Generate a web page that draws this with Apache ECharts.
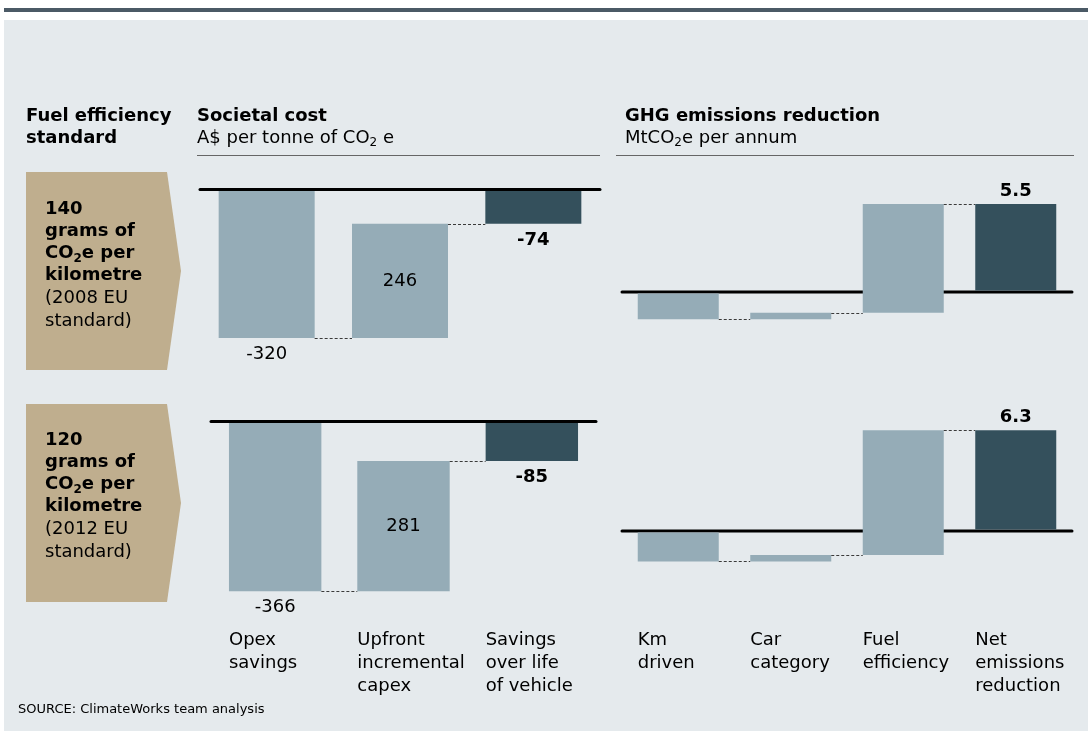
<!DOCTYPE html>
<html>
<head>
<meta charset="utf-8">
<script src="https://cdn.jsdelivr.net/npm/echarts@6/dist/echarts.min.js"></script>
<style>
  html, body { margin: 0; padding: 0; background: #fff; }
  #main { width: 1088px; height: 731px; }
</style>
</head>
<body>
<div id="main"></div>
<script>
// categories
var costCategories = ["Opex\nsavings", "Upfront\nincremental\ncapex", "Savings\nover life\nof vehicle"];
var ghgCategories = ["Km\ndriven", "Car\ncategory", "Fuel\nefficiency", "Net\nemissions\nreduction"];

// societal cost, A$ per tonne CO2e (last value = total)
var cost140 = [-320, 246, -74];
var cost120 = [-366, 281, -85];

// GHG emissions reduction, MtCO2e per annum (last value = total)
var ghg140 = [-1.7, 0.4, 6.8, 5.5];
var ghg120 = [-1.9, 0.4, 7.8, 6.3];

var FONT = "DejaVu Sans";
var LIGHT = "#95acb7";
var DARK = "#34505c";

// turn the steps into [index, start, end] for the waterfall
function steps(values) {
  var cum = 0;
  return values.map(function (v, i) {
    if (i === values.length - 1) return [i, 0, v];
    var s = cum;
    cum += v;
    return [i, s, cum];
  });
}

function waterfall(values, showAll, cats) {
  var n = values.length;
  return function (params, api) {
    var i = api.value(0), s = api.value(1), e = api.value(2);
    var last = i === n - 1;
    var bw = api.size([1, 0])[0] * 0.72;
    var ps = api.coord([i, s]);
    var pe = api.coord([i, e]);
    var zeroY = api.coord([i, 0])[1];
    var x = ps[0] - bw / 2;
    var y0 = Math.min(ps[1], pe[1]);
    var y1 = Math.max(ps[1], pe[1]);
    // keep the thick zero line visible where a bar starts on it
    if (Math.abs(y0 - zeroY) < 0.5) y0 += 1.5;
    if (Math.abs(y1 - zeroY) < 0.5) y1 -= 1.5;

    var kids = [{
      type: "rect",
      shape: { x: x, y: y0, width: bw, height: y1 - y0 },
      style: { fill: last ? DARK : LIGHT }
    }];

    if (!last) {
      var nx = api.coord([i + 1, e])[0] - bw / 2;
      var cy = Math.round(pe[1]) + 0.5;
      kids.push({
        type: "line",
        shape: { x1: x + bw, y1: cy, x2: nx, y2: cy },
        style: { stroke: "#3a3a3a", lineWidth: 1, lineDash: [3, 2] }
      });
    }

    var v = values[i];
    if (showAll || last) {
      var ty;
      if (v < 0) ty = y1 + 16;
      else if (last) ty = y0 - 13;
      else ty = (y0 + y1) / 2;
      kids.push({
        type: "text",
        style: {
          text: String(v), x: ps[0], y: ty,
          align: "center", verticalAlign: "middle",
          fontSize: 18, fontFamily: FONT, fontWeight: last ? "bold" : "normal",
          fill: "#000"
        }
      });
    }

    if (cats) {
      kids.push({
        type: "text",
        style: {
          text: cats[i], x: x, y: 629,
          align: "left", verticalAlign: "top",
          fontSize: 18, fontFamily: FONT, lineHeight: 23, fill: "#000"
        }
      });
    }
    return { type: "group", children: kids };
  };
}

// zero line as its own series underneath the bars
function zeroLine(params, api) {
  var cs = params.coordSys;
  var y = api.coord([0, 0])[1];
  return {
    type: "line",
    shape: { x1: cs.x, y1: y, x2: cs.x + cs.width, y2: y },
    style: { stroke: "#000", lineWidth: 3, lineCap: "round" }
  };
}

function xAx(idx, cats) {
  return {
    type: "category", gridIndex: idx, data: cats,
    axisTick: { show: false }, axisLabel: { show: false },
    axisLine: { show: false },
    splitLine: { show: false }
  };
}
function yAx(idx, min, max) {
  return {
    type: "value", gridIndex: idx, min: min, max: max, show: false,
    splitLine: { show: false }
  };
}
function wfSeries(idx, values, showAll, cats) {
  return {
    type: "custom", xAxisIndex: idx, yAxisIndex: idx, z: 5,
    renderItem: waterfall(values, showAll, cats),
    encode: { x: 0, y: [1, 2] },
    data: steps(values),
    silent: true
  };
}
function zeroSeries(idx) {
  return {
    type: "custom", xAxisIndex: idx, yAxisIndex: idx, z: 1,
    renderItem: zeroLine,
    encode: { x: 0, y: 1 },
    data: [[0, 0]],
    silent: true
  };
}

var rich = {
  b: { fontWeight: "bold", fontSize: 18, fontFamily: FONT, lineHeight: 22 },
  bsub: { fontWeight: "bold", fontSize: 12, fontFamily: FONT, lineHeight: 12, padding: [10, 0, 0, 0] },
  sub: { fontSize: 12, fontFamily: FONT, lineHeight: 12, padding: [10, 0, 0, 0] }
};
function txt(x, y, text, lh, size) {
  return {
    type: "text", x: x, y: y,
    style: {
      text: text, fontSize: size || 18, fontFamily: FONT, lineHeight: lh || 22,
      fill: "#000", align: "left", verticalAlign: "top", rich: rich
    }
  };
}
function arrow(top) {
  return {
    type: "polygon",
    shape: { points: [[26, top], [167, top], [181, top + 99], [167, top + 198], [26, top + 198]] },
    style: { fill: "#bfae8e" }
  };
}

var chart = echarts.init(document.getElementById("main"));
chart.setOption({
  backgroundColor: "#e5eaed",
  animation: false,
  grid: [
    { left: 200, top: 171, width: 400, height: 204 },
    { left: 211, top: 403, width: 385, height: 204 },
    { left: 622, top: 180, width: 450, height: 176 },
    { left: 622, top: 419, width: 450, height: 176 }
  ],
  xAxis: [xAx(0, costCategories), xAx(1, costCategories), xAx(2, ghgCategories), xAx(3, ghgCategories)],
  yAxis: [yAx(0, -400, 40), yAx(1, -400, 40), yAx(2, -4, 7), yAx(3, -4, 7)],
  series: [
    zeroSeries(0), zeroSeries(1), zeroSeries(2), zeroSeries(3),
    wfSeries(0, cost140, true, null),
    wfSeries(1, cost120, true, costCategories),
    wfSeries(2, ghg140, false, null),
    wfSeries(3, ghg120, false, ghgCategories)
  ],
  graphic: [
    { type: "rect", shape: { x: 0, y: 0, width: 1088, height: 20 }, style: { fill: "#fff" } },
    { type: "rect", shape: { x: 0, y: 0, width: 4, height: 731 }, style: { fill: "#fff" } },
    { type: "rect", shape: { x: 4, y: 8, width: 1084, height: 4 }, style: { fill: "#4b5a66" } },

    txt(26, 105, "{b|Fuel efficiency}\n{b|standard}"),
    txt(197, 105, "{b|Societal cost}\nA$ per tonne of CO{sub|2} e"),
    txt(625, 105, "{b|GHG emissions reduction}\nMtCO{sub|2}e per annum"),
    { type: "line", shape: { x1: 197, y1: 155.5, x2: 600, y2: 155.5 }, style: { stroke: "#666", lineWidth: 1 } },
    { type: "line", shape: { x1: 616, y1: 155.5, x2: 1074, y2: 155.5 }, style: { stroke: "#666", lineWidth: 1 } },

    arrow(172),
    arrow(404),
    txt(45, 198.5, "{b|140}\n{b|grams of}\n{b|CO}{bsub|2}{b|e per}\n{b|kilometre}\n(2008 EU\nstandard)", 23),
    txt(45, 429.5, "{b|120}\n{b|grams of}\n{b|CO}{bsub|2}{b|e per}\n{b|kilometre}\n(2012 EU\nstandard)", 23),

    txt(18, 703, "SOURCE: ClimateWorks team analysis", 14, 13)
  ]
});
</script>
</body>
</html>
